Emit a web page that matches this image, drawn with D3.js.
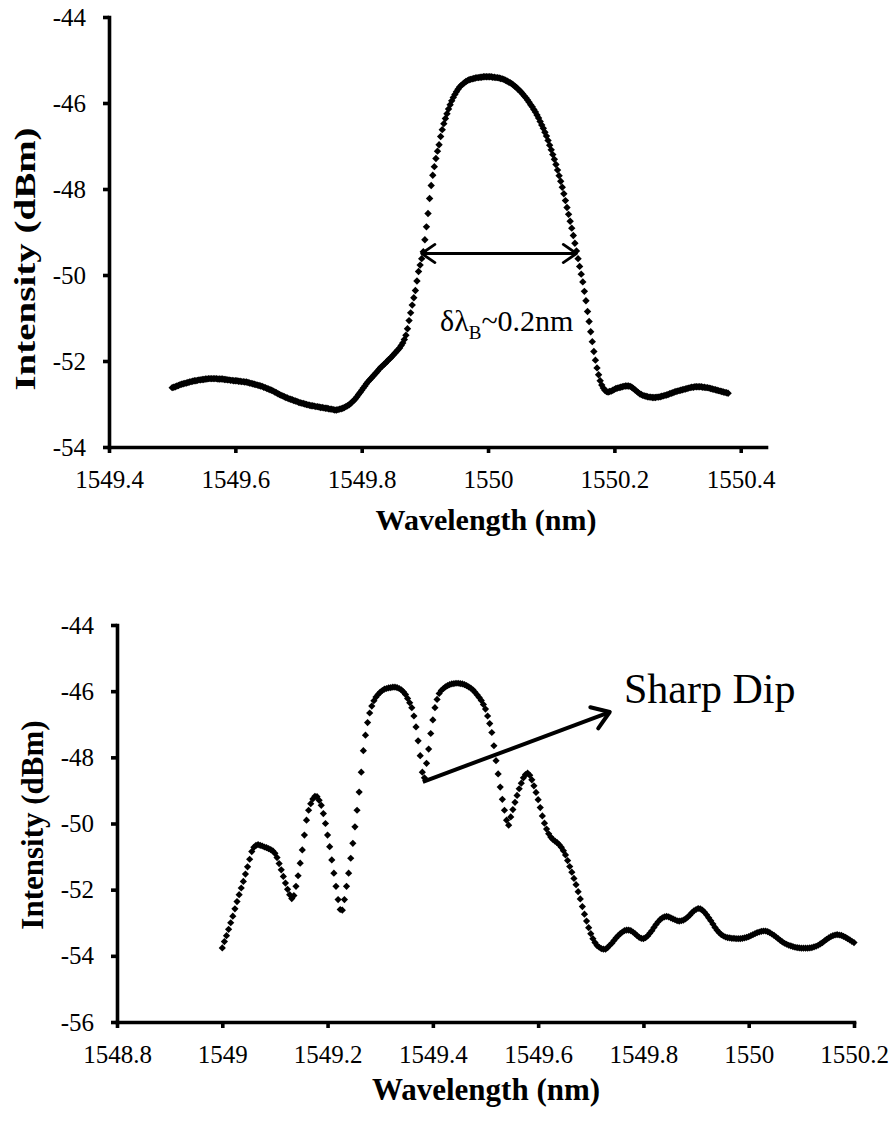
<!DOCTYPE html>
<html>
<head>
<meta charset="utf-8">
<script src="https://cdn.jsdelivr.net/npm/d3@7"></script>
<style>
  html, body { margin: 0; padding: 0; background: #fff; }
  svg { display: block; }
  text { font-family: "Liberation Serif", "Times New Roman", serif; fill: #000; }
</style>
</head>
<body>
<svg id="fig" width="893" height="1130"></svg>
<script>
// ---------- Upper panel: FBG reflection spectrum ----------
const topStart = 1549.5;     // first wavelength of the trace (nm)
const topStep = 0.0025;      // OSA sampling step (nm)
const topIntensity = [
  -52.62,
  -52.61,-52.60,-52.58,-52.57,-52.55,-52.54,-52.53,-52.52,
  -52.51,-52.50,-52.49,-52.48,-52.47,-52.46,-52.46,-52.45,
  -52.44,-52.44,-52.43,-52.43,-52.42,-52.42,-52.41,-52.41,
  -52.41,-52.41,-52.41,-52.41,-52.42,-52.42,-52.42,-52.42,
  -52.43,-52.43,-52.44,-52.44,-52.45,-52.45,-52.46,-52.46,
  -52.46,-52.47,-52.47,-52.48,-52.48,-52.49,-52.49,-52.50,
  -52.51,-52.52,-52.53,-52.54,-52.55,-52.56,-52.57,-52.58,
  -52.59,-52.61,-52.62,-52.64,-52.65,-52.67,-52.68,-52.70,
  -52.72,-52.74,-52.76,-52.78,-52.80,-52.81,-52.83,-52.85,
  -52.86,-52.88,-52.89,-52.90,-52.92,-52.93,-52.94,-52.96,
  -52.97,-52.98,-52.99,-53.00,-53.01,-53.02,-53.03,-53.04,
  -53.04,-53.05,-53.06,-53.06,-53.07,-53.08,-53.08,-53.09,
  -53.10,-53.10,-53.11,-53.12,-53.12,-53.13,-53.14,-53.14,
  -53.13,-53.12,-53.11,-53.10,-53.08,-53.06,-53.04,-53.02,
  -52.99,-52.95,-52.92,-52.88,-52.83,-52.78,-52.73,-52.68,
  -52.63,-52.58,-52.53,-52.48,-52.44,-52.40,-52.36,-52.32,
  -52.28,-52.24,-52.19,-52.15,-52.12,-52.08,-52.05,-52.01,
  -51.97,-51.94,-51.90,-51.86,-51.82,-51.78,-51.74,-51.70,
  -51.64,-51.58,-51.50,-51.40,-51.25,-51.06,-50.88,-50.70,
  -50.53,-50.36,-50.14,-49.92,-49.77,-49.62,-49.46,-49.18,
  -48.88,-48.57,-48.22,-47.92,-47.68,-47.48,-47.29,-47.12,
  -46.97,-46.78,-46.62,-46.48,-46.36,-46.25,-46.14,-46.04,
  -45.95,-45.87,-45.80,-45.74,-45.68,-45.63,-45.59,-45.56,
  -45.53,-45.50,-45.48,-45.46,-45.45,-45.44,-45.43,-45.42,
  -45.41,-45.41,-45.40,-45.40,-45.39,-45.39,-45.39,-45.39,
  -45.39,-45.39,-45.40,-45.40,-45.41,-45.41,-45.42,-45.43,
  -45.44,-45.45,-45.47,-45.49,-45.51,-45.53,-45.55,-45.58,
  -45.61,-45.64,-45.68,-45.71,-45.75,-45.79,-45.84,-45.88,
  -45.93,-45.98,-46.04,-46.09,-46.15,-46.21,-46.28,-46.35,
  -46.43,-46.51,-46.59,-46.68,-46.77,-46.87,-46.98,-47.09,
  -47.20,-47.31,-47.43,-47.56,-47.69,-47.82,-47.96,-48.11,
  -48.27,-48.43,-48.59,-48.75,-48.91,-49.08,-49.26,-49.44,
  -49.62,-49.80,-49.98,-50.16,-50.38,-50.60,-50.85,-51.08,
  -51.32,-51.55,-51.78,-51.98,-52.16,-52.32,-52.46,-52.56,
  -52.63,-52.68,-52.71,-52.72,-52.71,-52.70,-52.68,-52.66,
  -52.64,-52.63,-52.62,-52.61,-52.60,-52.59,-52.58,-52.58,
  -52.58,-52.59,-52.61,-52.64,-52.67,-52.70,-52.73,-52.76,
  -52.78,-52.80,-52.81,-52.82,-52.83,-52.84,-52.84,-52.85,
  -52.85,-52.85,-52.84,-52.84,-52.83,-52.82,-52.81,-52.80,
  -52.79,-52.78,-52.76,-52.75,-52.74,-52.72,-52.71,-52.70,
  -52.69,-52.68,-52.67,-52.66,-52.65,-52.64,-52.63,-52.62,
  -52.61,-52.61,-52.60,-52.60,-52.60,-52.60,-52.60,-52.61,
  -52.61,-52.62,-52.62,-52.63,-52.64,-52.65,-52.66,-52.67,
  -52.68,-52.69,-52.70,-52.71,-52.72,-52.73,-52.74,-52.75
];
const topXTicks = [1549.4, 1549.6, 1549.8, 1550.0, 1550.2, 1550.4];
const topYTicks = [-54, -52, -50, -48, -46, -44];
// FWHM marker: double arrow across the peak and its label
const topWidthArrow = { from: 1549.895, to: 1550.140, level: -49.5 };

// ---------- Lower panel: spectrum with the sharp dip ----------
const bottomStart = 1549.0;
const bottomStep = 0.004;
const bottomIntensity = [
  -53.76,
  -53.57,-53.39,-53.20,-53.00,-52.80,
  -52.58,-52.36,-52.15,-51.95,-51.75,
  -51.53,-51.31,-51.08,-50.85,-50.72,
  -50.66,-50.64,-50.66,-50.68,-50.71,
  -50.73,-50.76,-50.79,-50.83,-50.90,
  -51.03,-51.21,-51.40,-51.60,-51.80,
  -51.99,-52.15,-52.27,-52.18,-51.90,
  -51.58,-51.20,-50.80,-50.35,-49.90,
  -49.60,-49.40,-49.26,-49.18,-49.19,
  -49.30,-49.45,-49.70,-50.00,-50.35,
  -50.70,-51.10,-51.50,-51.90,-52.30,
  -52.60,-52.62,-52.30,-51.90,-51.50,
  -51.05,-50.60,-50.10,-49.60,-49.05,
  -48.45,-47.80,-47.33,-46.95,-46.66,
  -46.45,-46.29,-46.18,-46.10,-46.03,
  -45.98,-45.94,-45.92,-45.90,-45.89,
  -45.88,-45.88,-45.89,-45.92,-45.96,
  -46.02,-46.10,-46.22,-46.35,-46.50,
  -46.75,-47.08,-47.50,-47.95,-48.45,
  -48.62,-48.18,-47.75,-47.28,-46.87,
  -46.50,-46.25,-46.07,-45.98,-45.92,
  -45.87,-45.83,-45.80,-45.78,-45.77,
  -45.76,-45.76,-45.77,-45.78,-45.80,
  -45.83,-45.87,-45.91,-45.96,-46.03,
  -46.11,-46.19,-46.28,-46.40,-46.54,
  -46.75,-46.98,-47.25,-47.65,-48.10,
  -48.50,-48.90,-49.27,-49.60,-49.90,
  -50.05,-49.80,-49.58,-49.36,-49.15,
  -48.95,-48.78,-48.62,-48.52,-48.48,
  -48.54,-48.68,-48.86,-49.06,-49.28,
  -49.52,-49.77,-49.99,-50.17,-50.31,
  -50.41,-50.48,-50.53,-50.58,-50.64,
  -50.72,-50.82,-50.95,-51.12,-51.30,
  -51.47,-51.66,-51.85,-52.06,-52.28,
  -52.51,-52.74,-52.95,-53.15,-53.33,
  -53.48,-53.60,-53.69,-53.74,-53.78,
  -53.80,-53.80,-53.75,-53.68,-53.62,
  -53.54,-53.46,-53.39,-53.33,-53.28,
  -53.24,-53.22,-53.22,-53.24,-53.28,
  -53.33,-53.39,-53.44,-53.47,-53.48,
  -53.45,-53.40,-53.32,-53.24,-53.14,
  -53.05,-52.97,-52.90,-52.85,-52.82,
  -52.81,-52.82,-52.85,-52.88,-52.91,
  -52.94,-52.95,-52.94,-52.92,-52.88,
  -52.83,-52.77,-52.70,-52.64,-52.60,
  -52.57,-52.58,-52.62,-52.68,-52.76,
  -52.85,-52.94,-53.04,-53.14,-53.23,
  -53.30,-53.36,-53.40,-53.43,-53.45,
  -53.46,-53.47,-53.47,-53.48,-53.48,
  -53.48,-53.47,-53.46,-53.44,-53.42,
  -53.39,-53.36,-53.33,-53.30,-53.28,
  -53.26,-53.25,-53.25,-53.27,-53.30,
  -53.34,-53.38,-53.43,-53.48,-53.53,
  -53.58,-53.62,-53.65,-53.68,-53.70,
  -53.72,-53.74,-53.75,-53.76,-53.77,
  -53.77,-53.77,-53.77,-53.76,-53.75,
  -53.73,-53.71,-53.68,-53.64,-53.60,
  -53.55,-53.50,-53.46,-53.42,-53.39,
  -53.37,-53.36,-53.37,-53.38,-53.41,
  -53.44,-53.48,-53.52,-53.56,-53.60
];
const bottomXTicks = [1548.8, 1549.0, 1549.2, 1549.4, 1549.6, 1549.8, 1550.0, 1550.2];
const bottomYTicks = [-56, -54, -52, -50, -48, -46, -44];
// pointer from the dip to its label
const dipArrow = { from: [1549.381, -48.74], to: [1549.736, -46.63] };

// ---------- drawing ----------
const svg = d3.select("#fig");
const serif = '"Liberation Serif", "Times New Roman", serif';

// Excel-like diamond marker
const diamondShape = {
  draw(ctx, size) {
    const r = Math.sqrt(size) / 2;
    ctx.moveTo(0, -r); ctx.lineTo(r, 0); ctx.lineTo(0, r); ctx.lineTo(-r, 0); ctx.closePath();
  }
};

function fmtTick(d) { return String(+d.toFixed(1)); }

function openHead(g, tip, from, len, width) {
  const ang = Math.atan2(tip[1] - from[1], tip[0] - from[0]);
  const a1 = ang + Math.PI - 0.6, a2 = ang + Math.PI + 0.6;
  const p = d3.path();
  p.moveTo(tip[0] + len * Math.cos(a1), tip[1] + len * Math.sin(a1));
  p.lineTo(tip[0], tip[1]);
  p.lineTo(tip[0] + len * Math.cos(a2), tip[1] + len * Math.sin(a2));
  g.append("path").attr("d", p.toString()).attr("fill", "none")
    .attr("stroke", "#000").attr("stroke-width", width)
    .attr("stroke-linecap", "round").attr("stroke-linejoin", "round");
}

function panel(cfg) {
  const x = d3.scaleLinear().domain(cfg.xDomain).range(cfg.xRange);
  const y = d3.scaleLinear().domain(cfg.yDomain).range(cfg.yRange);
  const g = svg.append("g");

  const sym = d3.symbol().type(diamondShape).size((cfg.marker * 2) ** 2);
  g.append("g").selectAll("path").data(cfg.values).join("path")
    .attr("transform", (v, i) => `translate(${x(cfg.start + i * cfg.step)},${y(v)})`)
    .attr("d", sym).attr("fill", "#000");

  const xa = g.append("g").attr("transform", `translate(0,${cfg.yRange[0]})`)
    .call(d3.axisBottom(x).tickValues(cfg.xTicks).tickFormat(fmtTick)
      .tickSizeInner(6).tickSizeOuter(0).tickPadding(17));
  const ya = g.append("g").attr("transform", `translate(${cfg.xRange[0]},0)`)
    .call(d3.axisLeft(y).tickValues(cfg.yTicks).tickFormat(fmtTick)
      .tickSizeInner(6).tickSizeOuter(0).tickPadding(17));
  [xa, ya].forEach(a => {
    a.attr("font-family", null);
    a.select(".domain").attr("stroke", "#000").attr("stroke-width", 3.6).attr("stroke-linecap", "square");
    a.selectAll(".tick line").attr("stroke", "#000").attr("stroke-width", 3.6);
    a.selectAll(".tick text").attr("font-size", cfg.tickFont).attr("fill", "#000")
      .style("font-family", serif);
  });

  g.append("text").attr("x", cfg.xTitle[0]).attr("y", cfg.xTitle[1])
    .attr("text-anchor", "middle").attr("font-weight", "bold").attr("font-size", cfg.titleFont)
    .text("Wavelength (nm)");
  g.append("text")
    .attr("transform", `translate(${cfg.yTitle[0]},${cfg.yTitle[1]}) scale(1,${cfg.yTitleStretch}) rotate(-90)`)
    .attr("text-anchor", "middle").attr("font-weight", "bold").attr("font-size", cfg.titleFont)
    .text("Intensity (dBm)");
  return { g, x, y };
}

// upper panel (wavelength axis stops a little past the last sample)
const P1 = panel({
  values: topIntensity, start: topStart, step: topStep,
  xDomain: [1549.4, 1550.44], xRange: [109, 766],
  yDomain: [-54, -44], yRange: [447, 17],
  xTicks: topXTicks, yTicks: topYTicks,
  marker: 3.7, tickFont: 25, titleFont: 30,
  xTitle: [486, 530], yTitle: [35, 259], yTitleStretch: 1.3
});
{
  const { g, x, y } = P1;
  const a = [x(topWidthArrow.from), y(topWidthArrow.level)];
  const b = [x(topWidthArrow.to), y(topWidthArrow.level)];
  g.append("line").attr("x1", a[0]).attr("y1", a[1]).attr("x2", b[0]).attr("y2", b[1])
    .attr("stroke", "#000").attr("stroke-width", 2.8);
  openHead(g, a, b, 16, 2.8);
  openHead(g, b, a, 16, 2.8);
  const t = g.append("text").attr("x", x(1549.924)).attr("y", y(-51.30)).attr("font-size", 30);
  t.append("tspan").text("δλ");
  t.append("tspan").attr("font-size", 19).attr("dy", 8).text("B");
  t.append("tspan").attr("dy", -8).text("~0.2nm");
}

// lower panel
const P2 = panel({
  values: bottomIntensity, start: bottomStart, step: bottomStep,
  xDomain: [1548.8, 1550.2], xRange: [117, 854],
  yDomain: [-56, -44], yRange: [1022, 625],
  xTicks: bottomXTicks, yTicks: bottomYTicks,
  marker: 3.6, tickFont: 25, titleFont: 31,
  xTitle: [486, 1100], yTitle: [43, 825], yTitleStretch: 1
});
{
  const { g, x, y } = P2;
  const a = [x(dipArrow.from[0]), y(dipArrow.from[1])];
  const b = [x(dipArrow.to[0]), y(dipArrow.to[1])];
  g.append("line").attr("x1", a[0]).attr("y1", a[1]).attr("x2", b[0]).attr("y2", b[1])
    .attr("stroke", "#000").attr("stroke-width", 4);
  openHead(g, b, a, 20, 4);
  g.append("text").attr("x", x(1549.763)).attr("y", y(-46.36)).attr("font-size", 42).text("Sharp Dip");
}
</script>
</body>
</html>
